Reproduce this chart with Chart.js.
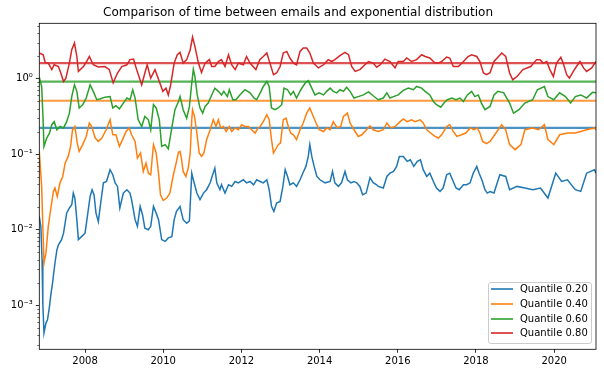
<!DOCTYPE html>
<html>
<head>
<meta charset="utf-8">
<script src="https://cdn.jsdelivr.net/npm/chart.js@4.4.0/dist/chart.umd.min.js"></script>
<style>
  body { margin: 0; background: #fff; }
  #wrap { position: relative; width: 604px; height: 373px; }
  #legend { position: absolute; left: 488px; top: 282px; width: 104px; height: 62px; box-sizing: border-box;
            border: 1px solid #cccccc; border-radius: 3px; background: rgba(255,255,255,0.8); }
  .swatch { position: absolute; height: 2.2px; }
  .ltext { position: absolute; font: 10px "DejaVu Sans"; color: #000; line-height: 12px; white-space: nowrap; }
</style>
</head>
<body>
<div id="wrap">
  <canvas id="chart" width="604" height="373"></canvas>
  <div id="legend"></div>
</div>
<script>
// values (x in decimal years, y on a log scale)
var redYears = [2006.83,2006.93,2006.98,2007.06,2007.15,2007.21,2007.32,2007.38,2007.45,2007.51,2007.60,2007.66,2007.73,2007.79,2007.83,2007.96,
  2008.04,2008.11,2008.21,2008.34,2008.51,2008.62,2008.72,2008.83,2008.94,2009.07,2009.15,2009.24,2009.32,2009.45,2009.53,2009.59,2009.68,2009.79,2009.90,2009.99,
  2010.07,2010.13,2010.19,2010.28,2010.36,2010.43,2010.51,2010.60,2010.69,2010.75,2010.81,2010.90,2010.98,2011.07,2011.18,2011.24,2011.32,2011.41,2011.49,2011.58,
  2011.67,2011.75,2011.84,2011.92,2012.05,2012.13,2012.22,2012.37,2012.47,2012.56,2012.65,2012.73,2012.82,2012.90,2012.99,2013.07,2013.16,2013.24,2013.33,2013.41,
  2013.50,2013.58,2013.67,2013.75,2013.84,2013.97,2014.10,2014.22,2014.31,2014.39,2014.52,2014.65,2014.74,2014.82,2014.91,2015.03,2015.16,2015.25,2015.37,2015.46,
  2015.55,2015.67,2015.80,2015.93,2016.01,2016.14,2016.23,2016.35,2016.48,2016.61,2016.70,2016.82,2016.95,2017.04,2017.12,2017.25,2017.33,2017.42,2017.55,2017.68,
  2017.80,2017.89,2018.02,2018.10,2018.19,2018.27,2018.36,2018.46,2018.66,2018.76,2018.86,2018.94,2019.05,2019.20,2019.40,2019.55,2019.64,2019.72,2019.81,2019.89,
  2019.98,2020.06,2020.17,2020.23,2020.32,2020.39,2020.49,2020.57,2020.66,2020.75,2020.83,2020.96,2021.07];
var redValues = [2.19,2.08,1.64,1.61,1.32,1.53,1.45,1.19,0.92,1.02,1.61,2.42,2.97,1.97,1.25,1.45,
  1.69,1.97,1.53,1.43,1.45,1.32,0.88,1.19,1.45,1.53,1.79,1.82,1.32,0.83,1.19,1.53,1.02,1.32,0.92,0.68,
  0.75,0.61,0.83,1.61,2.08,2.23,1.61,1.79,2.42,3.57,2.68,1.61,1.21,1.61,1.79,1.45,1.45,1.69,1.79,1.45,
  2.08,1.53,1.32,1.61,1.53,1.97,1.61,1.32,1.79,1.97,2.19,1.61,1.13,1.19,1.45,2.19,2.30,1.88,1.61,1.53,
  2.30,2.55,2.55,2.19,1.61,1.39,1.53,1.79,1.69,1.79,2.02,2.23,2.08,1.45,1.25,1.32,1.53,1.69,1.61,1.42,
  1.53,1.82,1.69,1.39,1.69,1.69,1.88,1.69,1.79,2.08,1.97,1.88,1.61,1.61,1.69,1.94,1.88,1.45,1.45,1.69,
  1.97,2.08,1.97,1.69,1.19,1.13,1.20,1.69,2.19,1.97,1.19,0.97,1.07,1.32,1.45,1.79,1.79,1.61,1.69,1.32,
  1.07,1.61,1.92,1.61,1.13,1.02,1.25,1.45,1.69,1.39,1.25,1.39,1.69];

var greenYears = [2006.83,2006.89,2006.92,2006.95,2007.02,2007.09,2007.15,2007.21,2007.28,2007.36,2007.45,2007.53,2007.60,2007.66,2007.73,2007.79,2007.85,2007.94,
  2008.03,2008.13,2008.21,2008.30,2008.38,2008.51,2008.64,2008.71,2008.79,2008.88,2008.98,2009.07,2009.15,2009.22,2009.28,2009.36,2009.45,2009.53,2009.62,2009.68,
  2009.75,2009.82,2009.90,2009.96,2010.05,2010.13,2010.22,2010.30,2010.39,2010.43,2010.51,2010.60,2010.67,2010.73,2010.77,2010.81,2010.87,2010.94,2011.01,2011.07,
  2011.15,2011.24,2011.32,2011.41,2011.49,2011.55,2011.64,2011.69,2011.78,2011.86,2011.96,2012.09,2012.22,2012.32,2012.39,2012.50,2012.56,2012.65,2012.71,2012.77,
  2012.86,2012.94,2013.03,2013.09,2013.18,2013.26,2013.33,2013.41,2013.52,2013.63,2013.71,2013.80,2013.88,2013.99,2014.10,2014.18,2014.27,2014.35,2014.44,2014.52,
  2014.61,2014.69,2014.78,2014.88,2014.99,2015.12,2015.25,2015.37,2015.50,2015.63,2015.72,2015.80,2015.89,2016.01,2016.14,2016.27,2016.40,2016.48,2016.61,2016.70,
  2016.82,2016.91,2016.99,2017.10,2017.18,2017.27,2017.38,2017.49,2017.59,2017.68,2017.78,2017.89,2017.97,2018.06,2018.14,2018.23,2018.36,2018.46,2018.56,2018.71,
  2018.86,2018.96,2019.10,2019.25,2019.45,2019.57,2019.75,2019.84,2019.99,2020.14,2020.29,2020.42,2020.54,2020.68,2020.83,2020.98,2021.07];
var greenValues = [1.05,0.79,0.35,0.127,0.164,0.19,0.246,0.27,0.211,0.233,0.223,0.27,0.35,0.58,0.83,0.68,0.41,0.453,
  0.555,0.83,0.68,0.527,0.54,0.57,0.58,0.41,0.44,0.40,0.476,0.555,0.527,0.715,0.555,0.286,0.233,0.317,0.286,0.211,
  0.453,0.41,0.286,0.127,0.134,0.118,0.225,0.389,0.50,0.58,0.389,0.30,0.43,0.877,1.34,1.07,0.61,0.41,0.35,0.43,
  0.476,0.61,0.75,0.68,0.61,0.68,0.58,0.715,0.527,0.527,0.61,0.715,0.65,0.555,0.527,0.68,0.79,0.92,0.79,0.41,
  0.389,0.41,0.453,0.75,0.715,0.61,0.68,0.555,0.715,0.877,0.94,0.75,0.61,0.65,0.61,0.68,0.75,0.68,0.65,0.715,
  0.68,0.77,0.68,0.555,0.58,0.61,0.67,0.595,0.527,0.555,0.65,0.555,0.58,0.61,0.70,0.75,0.715,0.79,0.75,0.68,
  0.61,0.50,0.453,0.42,0.476,0.527,0.555,0.527,0.555,0.50,0.61,0.68,0.58,0.61,0.476,0.389,0.43,0.61,0.68,0.65,
  0.476,0.35,0.389,0.476,0.527,0.715,0.79,0.58,0.527,0.65,0.58,0.476,0.58,0.61,0.555,0.66,0.65];

var orangeYears = [2006.83,2006.89,2006.92,2006.95,2007.00,2007.06,2007.12,2007.19,2007.23,2007.29,2007.36,2007.43,2007.49,2007.57,2007.63,2007.68,2007.74,2007.80,
  2007.85,2007.94,2008.03,2008.11,2008.17,2008.26,2008.34,2008.43,2008.54,2008.64,2008.71,2008.79,2008.88,2008.96,2009.05,2009.13,2009.19,2009.28,2009.34,2009.42,
  2009.49,2009.56,2009.62,2009.68,2009.75,2009.82,2009.88,2009.93,2010.00,2010.09,2010.17,2010.26,2010.33,2010.39,2010.43,2010.47,2010.51,2010.58,2010.64,2010.69,
  2010.73,2010.75,2010.80,2010.86,2010.92,2010.98,2011.04,2011.11,2011.20,2011.28,2011.35,2011.41,2011.47,2011.54,2011.61,2011.69,2011.75,2011.84,2011.92,2012.01,
  2012.09,2012.18,2012.26,2012.35,2012.43,2012.48,2012.56,2012.65,2012.71,2012.77,2012.82,2012.89,2012.94,2013.00,2013.07,2013.14,2013.20,2013.26,2013.33,2013.41,
  2013.50,2013.58,2013.67,2013.75,2013.82,2013.91,2013.99,2014.10,2014.18,2014.27,2014.35,2014.45,2014.54,2014.61,2014.71,2014.78,2014.88,2014.99,2015.08,2015.20,
  2015.29,2015.37,2015.50,2015.63,2015.72,2015.82,2015.93,2016.06,2016.14,2016.24,2016.35,2016.44,2016.57,2016.65,2016.74,2016.84,2016.95,2017.04,2017.12,2017.25,
  2017.33,2017.42,2017.51,2017.63,2017.74,2017.85,2017.95,2018.03,2018.10,2018.17,2018.27,2018.36,2018.51,2018.66,2018.76,2018.86,2019.00,2019.15,2019.25,2019.45,
  2019.60,2019.75,2019.84,2019.99,2020.14,2020.34,2020.54,2020.68,2020.83,2021.03,2021.07];
var orangeValues = [0.109,0.0375,0.0111,0.0036,0.0049,0.0111,0.0184,0.0322,0.0357,0.0276,0.0418,0.0508,0.0763,0.0935,0.127,0.211,0.233,0.141,
  0.109,0.134,0.172,0.259,0.233,0.164,0.148,0.164,0.211,0.286,0.181,0.181,0.127,0.156,0.20,0.223,0.181,0.148,0.089,0.104,
  0.0592,0.0763,0.0561,0.0535,0.134,0.104,0.0561,0.0291,0.0244,0.0263,0.0306,0.0535,0.0763,0.106,0.109,0.0846,0.0592,0.0508,0.0655,0.104,
  0.286,0.389,0.317,0.191,0.104,0.0935,0.104,0.156,0.211,0.286,0.233,0.286,0.223,0.233,0.20,0.233,0.20,0.223,0.211,0.246,
  0.233,0.233,0.211,0.191,0.223,0.233,0.27,0.334,0.286,0.156,0.104,0.12,0.134,0.141,0.286,0.30,0.233,0.191,0.181,0.156,
  0.211,0.259,0.35,0.41,0.334,0.259,0.211,0.20,0.223,0.211,0.27,0.223,0.233,0.317,0.35,0.259,0.211,0.172,0.181,0.211,
  0.238,0.211,0.20,0.211,0.259,0.223,0.233,0.27,0.293,0.27,0.286,0.27,0.286,0.259,0.211,0.191,0.172,0.164,0.181,0.233,
  0.246,0.20,0.172,0.181,0.191,0.223,0.211,0.223,0.191,0.148,0.138,0.148,0.191,0.246,0.211,0.134,0.115,0.134,0.211,0.223,
  0.211,0.246,0.156,0.134,0.181,0.191,0.191,0.20,0.211,0.223,0.211];

var blueYears = [2006.83,2006.87,2006.90,2006.92,2006.95,2007.00,2007.04,2007.09,2007.12,2007.17,2007.23,2007.28,2007.32,2007.40,2007.45,2007.53,2007.60,2007.66,
  2007.70,2007.74,2007.79,2007.83,2007.91,2008.00,2008.06,2008.13,2008.18,2008.23,2008.28,2008.34,2008.40,2008.47,2008.55,2008.64,2008.71,2008.77,2008.83,2008.89,
  2008.98,2009.07,2009.15,2009.19,2009.28,2009.34,2009.41,2009.47,2009.53,2009.62,2009.68,2009.75,2009.82,2009.88,2009.96,2010.05,2010.13,2010.22,2010.28,2010.34,
  2010.43,2010.51,2010.60,2010.67,2010.73,2010.77,2010.86,2010.94,2011.03,2011.11,2011.20,2011.32,2011.37,2011.45,2011.49,2011.58,2011.67,2011.75,2011.84,2011.92,
  2012.05,2012.13,2012.22,2012.31,2012.39,2012.48,2012.56,2012.65,2012.71,2012.77,2012.83,2012.90,2012.99,2013.06,2013.12,2013.18,2013.24,2013.33,2013.41,2013.50,
  2013.57,2013.65,2013.71,2013.75,2013.80,2013.86,2013.93,2014.01,2014.14,2014.27,2014.33,2014.39,2014.48,2014.56,2014.65,2014.71,2014.80,2014.88,2014.95,2015.03,
  2015.10,2015.19,2015.29,2015.37,2015.46,2015.50,2015.63,2015.72,2015.80,2015.89,2015.97,2016.04,2016.14,2016.24,2016.32,2016.41,2016.50,2016.58,2016.65,2016.74,
  2016.82,2016.91,2016.99,2017.08,2017.16,2017.25,2017.33,2017.40,2017.49,2017.57,2017.68,2017.76,2017.85,2017.93,2018.02,2018.08,2018.15,2018.23,2018.29,2018.36,
  2018.46,2018.61,2018.76,2018.86,2019.05,2019.25,2019.45,2019.65,2019.84,2020.04,2020.19,2020.34,2020.54,2020.68,2020.83,2021.03,2021.07];
var blueValues = [0.015,0.011,0.0040,0.00105,0.00043,0.00058,0.00064,0.00096,0.00131,0.0020,0.0036,0.0054,0.0063,0.0074,0.0090,0.0166,0.0194,0.0214,
  0.0306,0.0263,0.0136,0.0074,0.0081,0.0090,0.015,0.0276,0.0339,0.0291,0.0166,0.0128,0.0226,0.0418,0.0436,0.0624,0.0535,0.0418,0.0375,0.0194,
  0.0306,0.0339,0.0306,0.025,0.0136,0.0111,0.0204,0.0158,0.0105,0.0100,0.0111,0.0204,0.0166,0.0136,0.0074,0.0070,0.0078,0.0081,0.0136,0.0175,
  0.0203,0.0136,0.0122,0.0131,0.0561,0.0459,0.0306,0.025,0.0306,0.0339,0.0418,0.0655,0.0418,0.0339,0.0394,0.0306,0.0394,0.0375,0.0436,0.0418,
  0.0459,0.0418,0.0436,0.0394,0.0459,0.0436,0.0418,0.0459,0.0339,0.0204,0.0175,0.0226,0.0237,0.0375,0.0624,0.0508,0.0394,0.0418,0.0375,0.0459,
  0.0561,0.069,0.0935,0.134,0.0935,0.069,0.0508,0.0459,0.0418,0.0436,0.0592,0.0418,0.0375,0.0418,0.0592,0.0459,0.0418,0.0436,0.0418,0.0375,
  0.0291,0.0306,0.049,0.042,0.0394,0.0375,0.0357,0.0508,0.0561,0.0592,0.069,0.0935,0.0935,0.0806,0.0846,0.069,0.0806,0.0846,0.0624,0.0508,
  0.0561,0.0436,0.0357,0.0322,0.0357,0.0535,0.0561,0.0459,0.0357,0.0339,0.0394,0.0394,0.0418,0.0561,0.069,0.0561,0.0459,0.0339,0.0306,0.032,
  0.0306,0.0535,0.0508,0.0339,0.0375,0.0357,0.0339,0.0357,0.0263,0.0561,0.0436,0.0459,0.0339,0.0322,0.0561,0.0624,0.0561];

var quantileLabels = ['Quantile 0.20', 'Quantile 0.40', 'Quantile 0.60', 'Quantile 0.80'];
var expQuantiles = [0.2231, 0.5108, 0.9163, 1.6094];   // -ln(1-q)
var xTicks = [2008, 2010, 2012, 2014, 2016, 2018, 2020];
var yTicks = [0.001, 0.01, 0.1, 1];
var X_MIN = 2006.83, X_MAX = 2021.07;
var Y_MIN = 2.61e-4, Y_MAX = 5.42;

var colors = ['31,119,180', '255,127,14', '44,160,44', '214,39,40'];
var seriesYears = [blueYears, orangeYears, greenYears, redYears];
var seriesValues = [blueValues, orangeValues, greenValues, redValues];

function pts(xs, ys) {
    return xs.map(function (x, i) { return {x: x, y: ys[i]}; });
}

// matplotlib draws each series, then its reference line, in that order
var datasets = [];
for (var i = 0; i < 4; i++) {
    datasets.push({
        label: 'series ' + i,
        data: pts(seriesYears[i], seriesValues[i]),
        borderColor: 'rgb(' + colors[i] + ')',
        borderWidth: 1.5,
        order: 8 - 2 * i,
    });
    datasets.push({
        label: quantileLabels[i],
        data: pts([X_MIN, X_MAX], [expQuantiles[i], expQuantiles[i]]),
        borderColor: 'rgba(' + colors[i] + ',0.8)',
        borderWidth: 2.2,
        order: 7 - 2 * i,
    });
}

var SUP = {'-': '\u207B', '0': '\u2070', '1': '\u00B9', '2': '\u00B2', '3': '\u00B3', '4': '\u2074'};
function powLabel(v) {
    var e = String(Math.round(Math.log10(v)));
    return '10' + e.split('').map(function (c) { return SUP[c]; }).join('');
}

// axes frame and the small log ticks
var framePlugin = {
    id: 'frame',
    afterDatasetsDraw: function (chart) {
        var c = chart.ctx, a = chart.chartArea, y = chart.scales.y;
        c.save();
        c.strokeStyle = '#000';
        c.lineWidth = 0.8;
        c.strokeRect(a.left, a.top, a.right - a.left, a.bottom - a.top);
        c.lineWidth = 0.6;
        c.beginPath();
        for (var e = -4; e <= 0; e++) {
            for (var m = 2; m <= 9; m++) {
                var v = m * Math.pow(10, e);
                if (v < Y_MIN || v > Y_MAX) continue;
                var py = Math.round(y.getPixelForValue(v)) + 0.5;
                c.moveTo(a.left - 2, py);
                c.lineTo(a.left, py);
            }
        }
        c.stroke();
        c.restore();
    }
};

var tickFont = {family: 'DejaVu Sans', size: 10};
var axisGrid = {display: true, drawOnChartArea: false, drawTicks: true, tickLength: 3.5, tickWidth: 0.8, tickColor: '#000'};

new Chart(document.getElementById('chart'), {
    type: 'line',
    data: {datasets: datasets},
    options: {
        responsive: false,
        animation: false,
        devicePixelRatio: 1,
        layout: {padding: {left: 0, right: 8, top: 0, bottom: 0}},
        elements: {point: {radius: 0}, line: {tension: 0}},
        plugins: {
            legend: {display: false},
            tooltip: {enabled: false},
            title: {
                display: true,
                text: 'Comparison of time between emails and exponential distribution',
                color: '#000',
                font: {family: 'DejaVu Sans', size: 12, weight: 'normal'},
                padding: {top: 6, bottom: 2.9},
            },
        },
        scales: {
            x: {
                type: 'linear', min: X_MIN, max: X_MAX, bounds: 'data',
                afterBuildTicks: function (s) { s.ticks = xTicks.map(function (v) { return {value: v}; }); },
                afterFit: function (s) { s.height = 23.7; },
                grid: axisGrid,
                border: {display: false},
                ticks: {color: '#000', font: tickFont, padding: 3, maxRotation: 0, autoSkip: false,
                        callback: function (v) { return String(v); }},
            },
            y: {
                type: 'logarithmic', min: Y_MIN, max: Y_MAX, bounds: 'data',
                afterBuildTicks: function (s) { s.ticks = yTicks.map(function (v) { return {value: v}; }); },
                afterFit: function (s) { s.width = 39.3; },
                grid: axisGrid,
                border: {display: false},
                ticks: {color: '#000', font: tickFont, padding: 3, autoSkip: false,
                        callback: function (v) { return powLabel(v); }},
            },
        },
    },
    plugins: [framePlugin],
});

// legend box, lower right inside the axes
var legend = document.getElementById('legend');
for (var k = 0; k < 4; k++) {
    var cy = 6.3 + k * 14.67;
    var sw = document.createElement('div');
    sw.className = 'swatch';
    sw.style.left = '2px';
    sw.style.width = '21.5px';
    sw.style.top = (cy - 1.1) + 'px';
    sw.style.background = 'rgba(' + colors[k] + ',0.8)';
    legend.appendChild(sw);
    var tx = document.createElement('div');
    tx.className = 'ltext';
    tx.style.left = '31px';
    tx.style.top = (cy - 6) + 'px';
    tx.textContent = quantileLabels[k];
    legend.appendChild(tx);
}
</script>
</body>
</html>
